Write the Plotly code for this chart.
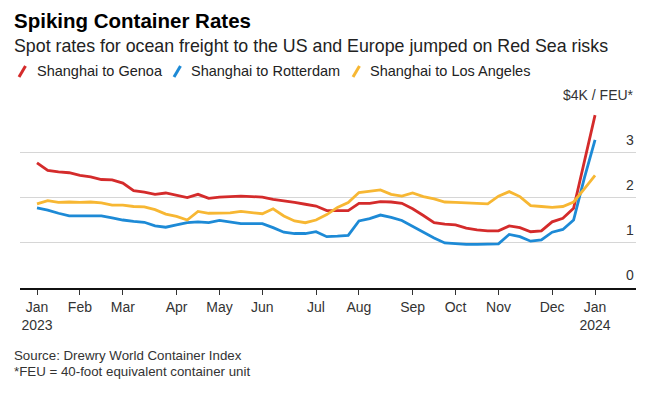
import pandas as pd
import plotly.graph_objects as go

# ---------------- data ----------------
weeks = pd.date_range("2023-01-05", periods=53, freq="7D")

genoa = [2.78, 2.61, 2.58, 2.56, 2.50, 2.47, 2.41, 2.40, 2.33,
         2.16, 2.13, 2.08, 2.11, 2.06, 2.01, 2.08, 1.99, 2.02,
         2.03, 2.04, 2.03, 2.02, 1.97, 1.94, 1.90, 1.86, 1.82,
         1.72, 1.72, 1.72, 1.88, 1.88, 1.92, 1.91, 1.88, 1.76,
         1.61, 1.45, 1.42, 1.40, 1.33, 1.29, 1.27, 1.27, 1.38,
         1.34, 1.25, 1.27, 1.47, 1.55, 1.77, 2.82, 3.84]

rotterdam = [1.78, 1.73, 1.66, 1.60, 1.60, 1.60, 1.60, 1.56, 1.51,
             1.48, 1.46, 1.38, 1.35, 1.40, 1.45, 1.47, 1.45, 1.50,
             1.47, 1.43, 1.43, 1.43, 1.34, 1.24, 1.21, 1.21, 1.25,
             1.14, 1.15, 1.17, 1.49, 1.54, 1.62, 1.57, 1.50, 1.37,
             1.23, 1.11, 1.00, 0.98, 0.97, 0.97, 0.97, 0.98, 1.19,
             1.14, 1.04, 1.07, 1.24, 1.30, 1.51, 2.44, 3.29]

los_angeles = [1.87, 1.94, 1.90, 1.91, 1.90, 1.91, 1.89, 1.84, 1.84,
               1.81, 1.80, 1.74, 1.64, 1.59, 1.51, 1.70, 1.66, 1.66,
               1.67, 1.70, 1.68, 1.65, 1.76, 1.60, 1.49, 1.45, 1.51,
               1.63, 1.79, 1.90, 2.12, 2.15, 2.18, 2.08, 2.04, 2.11,
               2.03, 1.98, 1.91, 1.90, 1.89, 1.87, 1.87, 2.04, 2.14,
               2.03, 1.83, 1.81, 1.79, 1.81, 1.91, 2.20, 2.50]

series_names = ["Shanghai to Genoa", "Shanghai to Rotterdam", "Shanghai to Los Angeles"]

x_tick_dates = ["2023-01-05", "2023-02-02", "2023-03-02", "2023-04-06", "2023-05-04",
                "2023-06-01", "2023-07-06", "2023-08-03", "2023-09-07", "2023-10-05",
                "2023-11-02", "2023-12-07", "2024-01-04"]
x_tick_labels = ["Jan<br>2023", "Feb", "Mar", "Apr", "May", "Jun", "Jul", "Aug",
                 "Sep", "Oct", "Nov", "Dec", "Jan<br>2024"]

y_tick_vals = [0, 1, 2, 3, 4]
y_tick_labels = ["0", "1", "2", "3", "$4K / FEU*"]

title = "Spiking Container Rates"
subtitle = "Spot rates for ocean freight to the US and Europe jumped on Red Sea risks"
source_lines = ["Source: Drewry World Container Index",
                "*FEU = 40-foot equivalent container unit"]

# ---------------- style ----------------
W, H = 668, 393
L, R, T, B = 20, 32, 107, 105
PW, PH = W - L - R, H - T - B
FONT = "Liberation Sans, Arial, sans-serif"
colors = ["#d42b2b", "#1d8ad6", "#f7b733"]


def px(xp):
    return (xp - L) / PW


def py(yp):
    return (H - B - yp) / PH


fig = go.Figure()
for name, vals, c in zip(series_names, [genoa, rotterdam, los_angeles], colors):
    fig.add_trace(go.Scatter(x=weeks, y=vals, mode="lines", name=name,
                             line=dict(color=c, width=2.8), showlegend=False,
                             hoverinfo="skip"))

annotations = [
    dict(text="<b>" + title + "</b>", x=px(12), y=py(20), font=dict(size=20.5, color="#000000")),
    dict(text=subtitle, x=px(12), y=py(46), font=dict(size=17.8, color="#222222")),
    dict(text=source_lines[0], x=px(12), y=py(355), font=dict(size=13.3, color="#333333")),
    dict(text=source_lines[1], x=px(12), y=py(371), font=dict(size=13.3, color="#333333")),
]
legend_text_x = [35, 189, 368]
slash_x = [19, 174, 353]
shapes = []
for name, c, tx, sx in zip(series_names, colors, legend_text_x, slash_x):
    annotations.append(dict(text=name, x=px(tx), y=py(71), font=dict(size=14.5, color="#222222")))
    shapes.append(dict(type="line", xref="paper", yref="paper",
                       x0=px(sx), y0=py(77), x1=px(sx + 6.5), y1=py(66),
                       line=dict(color=c, width=3)))

for a in annotations:
    a.update(xref="paper", yref="paper", xanchor="left", yanchor="middle",
             showarrow=False, align="left")

# value-axis labels sit just above their gridlines, right-aligned
for v, lab in zip(y_tick_vals, y_tick_labels):
    annotations.append(dict(text=lab, xref="paper", yref="y", x=1, y=v,
                            xanchor="right", yanchor="bottom", yshift=3,
                            showarrow=False, font=dict(size=14, color="#333333")))

fig.update_layout(
    width=W, height=H,
    margin=dict(l=L, r=R, t=T, b=B, pad=0),
    paper_bgcolor="white", plot_bgcolor="white",
    font=dict(family=FONT, color="#333333"),
    annotations=annotations, shapes=shapes,
    xaxis=dict(
        type="date",
        range=["2022-12-24 21:50", "2024-01-30 17:00"],
        tickvals=x_tick_dates, ticktext=x_tick_labels,
        showgrid=False, zeroline=False,
        showline=True, linecolor="#111111", linewidth=1.5,
        ticks="outside", ticklen=5, tickwidth=1, tickcolor="#333333",
        tickfont=dict(size=14, color="#333333"),
    ),
    yaxis=dict(
        range=[0, 4.02], side="right",
        tickvals=y_tick_vals, showticklabels=False,
        showgrid=True, gridcolor="#d6d6d6", gridwidth=1,
        zeroline=False, showline=False, ticks="",
    ),
)

fig.write_html("out.html", config={"displayModeBar": False},
               post_script="document.body.style.margin='0px';")
